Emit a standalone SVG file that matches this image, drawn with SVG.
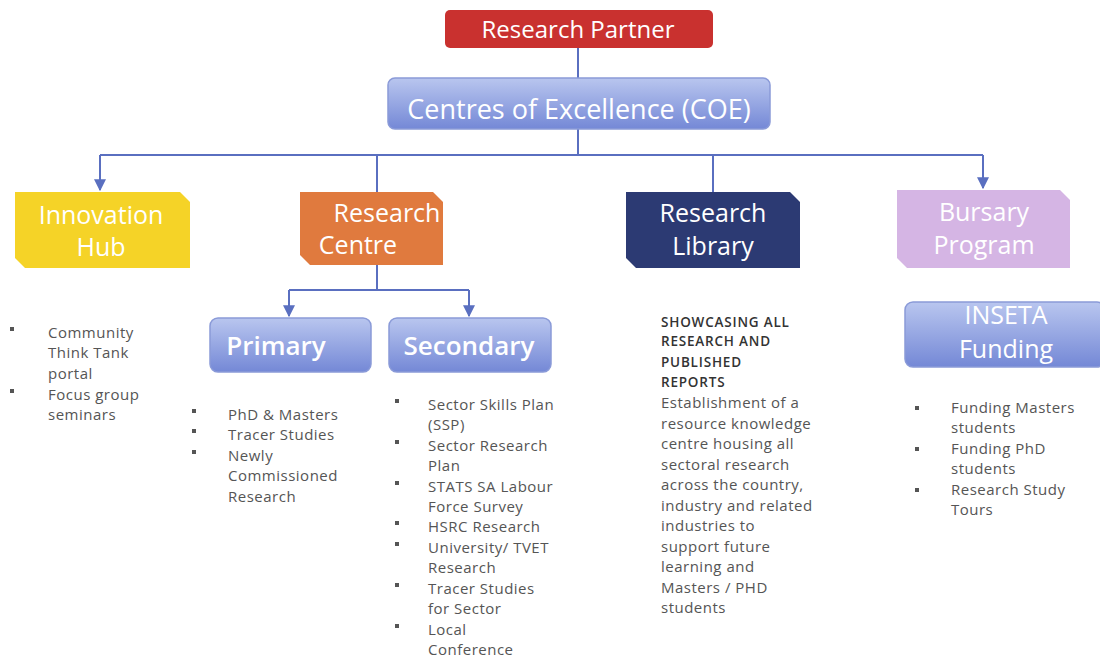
<svg xmlns="http://www.w3.org/2000/svg" width="1100" height="658" viewBox="0 0 1100 658">
<defs>
<linearGradient id="blueG" x1="0" y1="0" x2="0" y2="1">
<stop offset="0" stop-color="#b9c6ef"/>
<stop offset="1" stop-color="#7488d6"/>
</linearGradient>
<marker id="arr" viewBox="0 0 10 10" refX="9" refY="5" markerWidth="6" markerHeight="6" orient="auto">
<path d="M0,0 L10,5 L0,10 z" fill="#5a6fc0"/>
</marker>
<style>
.title{font-family:"Open Sans","Liberation Sans",sans-serif;fill:#fff;text-anchor:middle}
.body{font-family:"Open Sans","Liberation Sans",sans-serif;font-size:15px;letter-spacing:0.5px;fill:#555}
.caps{font-family:"Open Sans","Liberation Sans",sans-serif;font-size:13.5px;font-weight:600;letter-spacing:0.8px;fill:#333}
.blue{fill:url(#blueG);stroke:#8a9ad8;stroke-width:1.5}
.conn{stroke:#5a6fc0;stroke-width:2;fill:none}
.bul{fill:#555}
</style>
</defs>
<rect width="1100" height="658" fill="#fff"/>

<g id="connectors">
<path class="conn" d="M578,48 V78"/>
<path class="conn" d="M578,129 V155"/>
<path class="conn" d="M100,155 H983"/>
<path class="conn" d="M100,155 V190" marker-end="url(#arr)"/>
<path class="conn" d="M983,155 V188" marker-end="url(#arr)"/>
<path class="conn" d="M377,155 V192"/>
<path class="conn" d="M713,155 V192"/>
<path class="conn" d="M377,265 V290"/>
<path class="conn" d="M289,290 H469"/>
<path class="conn" d="M289,290 V316" marker-end="url(#arr)"/>
<path class="conn" d="M469,290 V316" marker-end="url(#arr)"/>
</g>

<g id="research-partner">
<rect x="445" y="10" width="268" height="38" rx="5" fill="#c9312f"/>
<text class="title" x="578" y="38" font-size="24">Research Partner</text>
</g>

<g id="coe">
<rect class="blue" x="388" y="78" width="382" height="51" rx="7"/>
<text class="title" x="579" y="119" font-size="27">Centres of Excellence (COE)</text>
</g>

<g id="innovation-hub">
<path d="M15,192 H180 L190,202 V268 H25 L15,258 Z" fill="#f5d327"/>
<text class="title" x="101" y="224" font-size="25">Innovation</text>
<text class="title" x="101" y="256" font-size="25">Hub</text>
</g>

<g id="research-centre">
<path d="M300,192 H433 L443,202 V265 H310 L300,255 Z" fill="#e07a3e"/>
<text class="title" x="387" y="222" font-size="25">Research</text>
<text class="title" x="358" y="254" font-size="25">Centre</text>
</g>

<g id="research-library">
<path d="M626,192 H790 L800,202 V268 H636 L626,258 Z" fill="#2c3a73"/>
<text class="title" x="713" y="222" font-size="25">Research</text>
<text class="title" x="713" y="255" font-size="25">Library</text>
</g>

<g id="bursary-program">
<path d="M897,190 H1060 L1070,200 V268 H907 L897,258 Z" fill="#d5b5e4"/>
<text class="title" x="984" y="221" font-size="25">Bursary</text>
<text class="title" x="984" y="254" font-size="25">Program</text>
</g>

<g id="primary">
<rect class="blue" x="210" y="318" width="161" height="54" rx="8"/>
<text class="title" x="276" y="355" font-size="26" font-weight="600">Primary</text>
</g>

<g id="secondary">
<rect class="blue" x="389" y="318" width="162" height="54" rx="8"/>
<text class="title" x="469" y="355" font-size="26" font-weight="600">Secondary</text>
</g>

<g id="inseta-funding">
<rect class="blue" x="905" y="302" width="200" height="65" rx="8"/>
<text class="title" x="1006" y="324" font-size="25">INSETA</text>
<text class="title" x="1006" y="358" font-size="25">Funding</text>
</g>

<g id="innovation-list">
<rect class="bul" x="10" y="327" width="4" height="4"/>
<rect class="bul" x="10" y="389" width="4" height="4"/>
<text class="body" x="48" y="338">Community</text>
<text class="body" x="48" y="358">Think Tank</text>
<text class="body" x="48" y="379">portal</text>
<text class="body" x="48" y="400">Focus group</text>
<text class="body" x="48" y="420">seminars</text>
</g>

<g id="primary-list">
<rect class="bul" x="192" y="409" width="4" height="4"/>
<rect class="bul" x="192" y="429" width="4" height="4"/>
<rect class="bul" x="192" y="450" width="4" height="4"/>
<text class="body" x="228" y="420">PhD &amp; Masters</text>
<text class="body" x="228" y="440">Tracer Studies</text>
<text class="body" x="228" y="461">Newly</text>
<text class="body" x="228" y="481">Commissioned</text>
<text class="body" x="228" y="502">Research</text>
</g>

<g id="secondary-list">
<rect class="bul" x="395" y="399" width="4" height="4"/>
<rect class="bul" x="395" y="440" width="4" height="4"/>
<rect class="bul" x="395" y="481" width="4" height="4"/>
<rect class="bul" x="395" y="521" width="4" height="4"/>
<rect class="bul" x="395" y="542" width="4" height="4"/>
<rect class="bul" x="395" y="583" width="4" height="4"/>
<rect class="bul" x="395" y="624" width="4" height="4"/>
<text class="body" x="428" y="410">Sector Skills Plan</text>
<text class="body" x="428" y="430">(SSP)</text>
<text class="body" x="428" y="451">Sector Research</text>
<text class="body" x="428" y="471">Plan</text>
<text class="body" x="428" y="492">STATS SA Labour</text>
<text class="body" x="428" y="512">Force Survey</text>
<text class="body" x="428" y="532">HSRC Research</text>
<text class="body" x="428" y="553">University/ TVET</text>
<text class="body" x="428" y="573">Research</text>
<text class="body" x="428" y="594">Tracer Studies</text>
<text class="body" x="428" y="614">for Sector</text>
<text class="body" x="428" y="635">Local</text>
<text class="body" x="428" y="655">Conference</text>
</g>

<g id="library-text">
<text class="caps" x="661" y="327">SHOWCASING ALL</text>
<text class="caps" x="661" y="346">RESEARCH AND</text>
<text class="caps" x="661" y="367">PUBLISHED</text>
<text class="caps" x="661" y="387">REPORTS</text>
<text class="body" x="661" y="408">Establishment of a</text>
<text class="body" x="661" y="429">resource knowledge</text>
<text class="body" x="661" y="449">centre housing all</text>
<text class="body" x="661" y="470">sectoral research</text>
<text class="body" x="661" y="490">across the country,</text>
<text class="body" x="661" y="511">industry and related</text>
<text class="body" x="661" y="531">industries to</text>
<text class="body" x="661" y="552">support future</text>
<text class="body" x="661" y="572">learning and</text>
<text class="body" x="661" y="593">Masters / PHD</text>
<text class="body" x="661" y="613">students</text>
</g>

<g id="inseta-list">
<rect class="bul" x="915" y="406" width="4" height="4"/>
<rect class="bul" x="915" y="447" width="4" height="4"/>
<rect class="bul" x="915" y="488" width="4" height="4"/>
<text class="body" x="951" y="413">Funding Masters</text>
<text class="body" x="951" y="433">students</text>
<text class="body" x="951" y="454">Funding PhD</text>
<text class="body" x="951" y="474">students</text>
<text class="body" x="951" y="495">Research Study</text>
<text class="body" x="951" y="515">Tours</text>
</g>
</svg>
